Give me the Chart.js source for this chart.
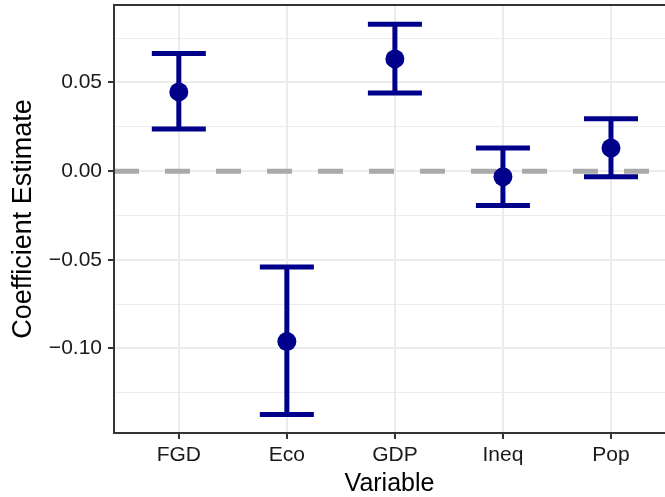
<!DOCTYPE html>
<html lang="en">
<head>
    <meta charset="UTF-8">
    <title>Coefficient Estimates</title>
    <style>
        html, body {
            margin: 0;
            padding: 0;
            background-color: #ffffff;
        }
        #wrap {
            width: 665px;
            height: 497px;
        }
    </style>
</head>
<body>
    <div id="wrap">
        <canvas id="coefChart" width="665" height="497"></canvas>
    </div>
    <script src="https://cdn.jsdelivr.net/npm/chart.js"></script>
    <script>
        // Values
        const variables = ['FGD', 'Eco', 'GDP', 'Ineq', 'Pop'];
        const estimates = [0.0447, -0.0961, 0.0633, -0.0032, 0.0130];
        const lowerCI = [0.0238, -0.1372, 0.0441, -0.0194, -0.0032];
        const upperCI = [0.0663, -0.0541, 0.0829, 0.0130, 0.0295];

        const yMajorTicks = [-0.10, -0.05, 0.00, 0.05];
        const yMinorTicks = [-0.125, -0.075, -0.025, 0.025, 0.075];
        const xTicks = [1, 2, 3, 4, 5];

        const navy = '#00008B';
        const textColor = '#1A1A1A';
        const fontFamily = '"Liberation Sans", Arial, Helvetica, sans-serif';

        function fmtTick(v) {
            const s = Math.abs(v).toFixed(2);
            return v < -1e-9 ? '\u2212' + s : s;
        }
        function isMajor(v) {
            return yMajorTicks.some(m => Math.abs(m - v) < 1e-9);
        }
        // keep the panel edges where the reference has them
        function noPadding(s) {
            s.paddingTop = 0;
            s.paddingBottom = 0;
            s.paddingLeft = 0;
            s.paddingRight = 0;
        }

        // zero reference line + error bars, drawn under the points
        const errorBarPlugin = {
            id: 'errorBars',
            beforeDatasetsDraw(chart) {
                const {ctx, chartArea, scales} = chart;
                const x = scales.x, y = scales.y;
                ctx.save();
                ctx.beginPath();
                ctx.rect(chartArea.left, chartArea.top, chartArea.right - chartArea.left, chartArea.bottom - chartArea.top);
                ctx.clip();

                // dashed line at zero
                ctx.strokeStyle = '#A9A9A9';
                ctx.lineWidth = 5;
                ctx.setLineDash([25, 26]);
                ctx.beginPath();
                ctx.moveTo(x.getPixelForValue(x.min), y.getPixelForValue(0));
                ctx.lineTo(x.getPixelForValue(x.max), y.getPixelForValue(0));
                ctx.stroke();
                ctx.setLineDash([]);

                ctx.strokeStyle = navy;
                ctx.lineWidth = 5;
                ctx.lineCap = 'butt';
                variables.forEach((v, i) => {
                    const cx = x.getPixelForValue(i + 1);
                    const xl = x.getPixelForValue(i + 1 - 0.25);
                    const xr = x.getPixelForValue(i + 1 + 0.25);
                    const yl = y.getPixelForValue(lowerCI[i]);
                    const yu = y.getPixelForValue(upperCI[i]);
                    ctx.beginPath();
                    ctx.moveTo(cx, yl);
                    ctx.lineTo(cx, yu);
                    ctx.moveTo(xl, yu);
                    ctx.lineTo(xr, yu);
                    ctx.moveTo(xl, yl);
                    ctx.lineTo(xr, yl);
                    ctx.stroke();
                });
                ctx.restore();
            },
            afterDraw(chart) {
                // panel border (left, top, bottom)
                const {ctx, chartArea} = chart;
                ctx.save();
                ctx.strokeStyle = '#333333';
                ctx.lineWidth = 2;
                ctx.beginPath();
                ctx.moveTo(chartArea.right + 2, chartArea.top);
                ctx.lineTo(chartArea.left, chartArea.top);
                ctx.lineTo(chartArea.left, chartArea.bottom);
                ctx.lineTo(chartArea.right + 2, chartArea.bottom);
                ctx.stroke();
                ctx.restore();
            }
        };

        const ctx = document.getElementById('coefChart').getContext('2d');
        const coefChart = new Chart(ctx, {
            type: 'scatter',
            data: {
                datasets: [{
                    label: 'Estimate',
                    data: estimates.map((e, i) => ({x: i + 1, y: e})),
                    backgroundColor: navy,
                    borderColor: navy,
                    pointRadius: 9.5,
                    pointHoverRadius: 9.5,
                    borderWidth: 0
                }]
            },
            options: {
                responsive: false,
                animation: false,
                devicePixelRatio: 1,
                layout: {
                    autoPadding: false,
                    padding: {top: 5, right: 0, bottom: 0, left: 0}
                },
                plugins: {
                    legend: {display: false},
                    tooltip: {enabled: false}
                },
                scales: {
                    x: {
                        type: 'linear',
                        min: 0.4,
                        max: 5.5,
                        afterBuildTicks: s => { s.ticks = xTicks.map(v => ({value: v})); },
                        afterFit: s => { s.height = 64; noPadding(s); },
                        border: {display: false},
                        grid: {
                            color: '#EBEBEB',
                            lineWidth: 2,
                            tickColor: '#333333',
                            tickLength: 6,
                            tickWidth: 2
                        },
                        ticks: {
                            autoSkip: false,
                            maxRotation: 0,
                            padding: 4,
                            color: textColor,
                            font: {family: fontFamily, size: 21},
                            callback: v => variables[v - 1]
                        },
                        title: {
                            display: true,
                            text: 'Variable',
                            color: '#000000',
                            font: {family: fontFamily, size: 25, lineHeight: 1},
                            padding: {top: 0, bottom: 0}
                        }
                    },
                    y: {
                        type: 'linear',
                        min: -0.1477,
                        max: 0.0937,
                        afterBuildTicks: s => {
                            s.ticks = yMajorTicks.concat(yMinorTicks).sort((a, b) => a - b).map(v => ({value: v}));
                        },
                        afterFit: s => { s.width = 114; noPadding(s); },
                        border: {display: false},
                        grid: {
                            color: '#EBEBEB',
                            lineWidth: c => (c.tick && isMajor(c.tick.value)) ? 2 : 1,
                            tickColor: c => (c.tick && isMajor(c.tick.value)) ? '#333333' : 'rgba(0,0,0,0)',
                            tickLength: 6,
                            tickWidth: 2
                        },
                        ticks: {
                            autoSkip: false,
                            padding: 6,
                            color: textColor,
                            font: {family: fontFamily, size: 21},
                            callback: v => isMajor(v) ? fmtTick(v) : ''
                        },
                        title: {
                            display: true,
                            text: 'Coefficient Estimate',
                            color: '#000000',
                            font: {family: fontFamily, size: 27, lineHeight: 1},
                            padding: {top: 10.5, bottom: 0}
                        }
                    }
                }
            },
            plugins: [errorBarPlugin]
        });
    </script>
</body>
</html>
